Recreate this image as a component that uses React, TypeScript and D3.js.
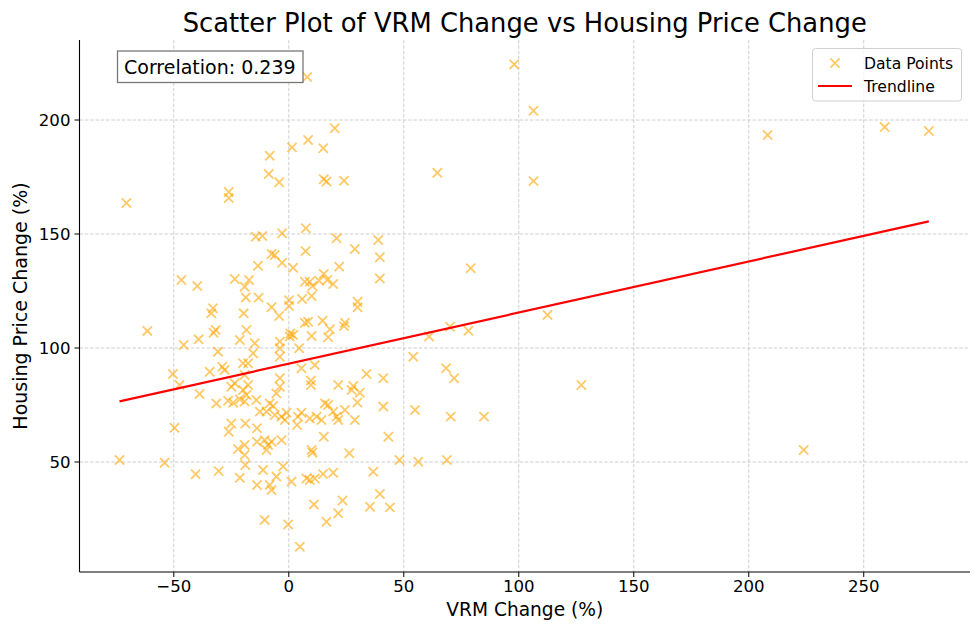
import React from "react";
import * as d3 from "d3";

const vrmChange: number[] = [
  8, 98, 106.4, 106.4, 64.6, 208.2, 259.1, 278.3, 223.9, -70.6, -26.1, -26.1, 20, 8.4, 1.4, -8.3, 15, -8.7, -4.2, 15.2, 16.4, 24,
  -14.4, -11.5, -2.9, 7.4, 20.8, 38.9, 28.7, 7.3, 39.6, -7.5, -6.1, -2.9, -13.4, 1.9, 21.9, 39.6, 15.2, -17.3, -19.2, 7, 9.1, 13.2,
  16.7, 19.3, 10.3, -18.7, -13.1, 9.9, 5.8, 0.1, 0.1, 29.9, 29.9, -7.5, -19.6, -4.2, -18.4, 7, 8.4, 14.7, 24.4, 24, 17.9, 0.7, 1.9,
  0.4, 9.9, 17.1, -3.9, -14.8, -3.9, 4.5, -15.5, -3.9, -19.9, -17.7, 5.5, 11.3, 33.8, 41.1, -3.9,
  -46.7, -39.8, -23.5, -33, -33.7, -61.5, -31.8, -32.7, -21.3, -45.7, -39.2, -30.8, -28.9, -27.9, -34.4, -50.4,
  -47.5, -38.8, -31.5, -23.5, -25, -17.7, -19.9, -18.4, -26.4, -24.2, -21.3, -19.2, -14.1, -49.7, -25, -18.9, -26.1, -13.8, -22.1,
  -19.2, -19.2, -18.9, -13.8, -73.6, -54, -40.5, -30.5, -21.3, -13.8,
  9.6, 9.6, 21.5, 28, 27.3, 30.9, 29.8, 41.1, -3.9, -5.4, -8.3, -6.8, -12.6, -9.7, -6.1, -3.2, -1.7, -1, 5.5, 4, 3.6, 9.1, 12.1,
  14.2, 15.7, 17.1, 19.3, 20.8, 21.5, 24.4, 28.7, -10.5, -9, -7.5, -3.2, -9.7, 15.2, 9.9, 10.3, 26.3, 43.3, 48.1, 36.7, 39.6, 35.3,
  44, 23.4, 21.5, 16.4, 10.9, 4.8, -0.3, -10.5, -11.2, -8.3, -7.5, -5.4, -2.5, 1.2, 7.7, 9.1, 11.3, 14.9, 19.3, -19.2,
  79.1, 61, 70.1, 78.1, 112.5, 54.1, 68.4, 71.9, 127.2, 54.9, 70.4, 84.9, 56.3, 68.7,
];

const housingChange: number[] = [
  218.9, 224.4, 204.1, 173.2, 176.9, 193.4, 196.9, 195.2, 55.3, 163.6, 168.4, 165.8, 196.4, 191.2, 188, 184.3, 187.6, 176.3, 172.7, 174, 173, 173.4,
  148.8, 149.1, 150.3, 152.5, 148.1, 147.4, 143.4, 142.5, 139.8, 141.2, 140.8, 137.4, 136.1, 135.2, 135.7, 130.5, 132.5, 129.8, 126.9, 129.1, 129.1, 129.5,
  129.8, 128.1, 127.2, 122.2, 122.1, 122.8, 121.5, 121, 118.4, 120.3, 117.9, 117.9, 115.2, 114, 107.9, 111.1, 111.5, 112, 111.1, 109.6, 108.2, 106.4, 105.7,
  105, 105.3, 104.7, 102.8, 102.1, 99.9, 99.9, 97.7, 96.2, 93.3, 93.3, 91.1, 92.5, 88.6, 86.7, 86.7,
  129.8, 127.2, 130.3, 117.4, 115.2, 107.5, 107.9, 106.7, 103.5, 101.3, 103.8, 98.4, 91.8, 90.4, 89.6, 88.6,
  83.8, 79.8, 75.7, 84.5, 83, 83.8, 81.6, 79.4, 76.9, 76, 77.5, 76.5, 77.2, 65, 66.9, 66.9, 63.3, 64.8, 55.7,
  57.5, 53.1, 48.7, 58.9, 50.9, 49.7, 44.6, 46, 43.1, 39.9,
  85.7, 83.8, 83.8, 83.3, 81.6, 80.4, 76.1, 74.3, 83, 80.1, 75.7, 74.6, 72.1, 72.1, 70.6, 69.9, 68.4, 71.6, 71.6, 69.9, 66.2, 69.1, 69.9,
  68.4, 75.7, 75, 72.1, 69.9, 68.4, 72.8, 68.4, 59.6, 57.5, 58.9, 59.6, 55.3, 61.1, 55.3, 54.1, 53.8, 61.1, 50.9, 45.7, 36, 30.4,
  30.1, 33.1, 27.5, 23.8, 31.4, 12.8, 22.6, 24.6, 46.5, 39.9, 37.7, 43.6, 48, 41.4, 42.8, 42.1, 42.8, 44.7, 45.3, 88.2,
  135, 105, 109.3, 107.6, 114.5, 96.2, 91.1, 86.7, 83.8, 72.8, 69.9, 69.9, 50.1, 50.9,
];

const xTickValues: number[] = [-50, 0, 50, 100, 150, 200, 250];
const yTickValues: number[] = [50, 100, 150, 200];
const trendSlope = 0.2244;
const trendIntercept = 93.1;
const correlationText = "Correlation: 0.239";
const legendLabels: string[] = ["Data Points", "Trendline"];

const W = 980;
const H = 632;
const left = 79.5;
const right = 970;
const top = 40;
const bottom = 572;
const FONT = "'DejaVu Sans', Verdana, sans-serif";
const POINT_COLOR = "#FFA500";

const fmt = (v: number) => (v < 0 ? "\u2212" + Math.abs(v) : String(v));

export default function App() {
  const x = d3.scaleLinear().domain([-91, 296.2]).range([left, right]);
  const y = d3.scaleLinear().domain([1.75, 235.1]).range([bottom, top]);

  const pts = vrmChange.map((v, i) => ({ x: v, y: housingChange[i] }));
  const xExt = d3.extent(vrmChange) as [number, number];
  const trendData = xExt.map((v) => ({ x: v, y: trendIntercept + trendSlope * v }));
  const line = d3
    .line<{ x: number; y: number }>()
    .x((d) => x(d.x))
    .y((d) => y(d.y));

  const s = 4.6;
  const cross = (cx: number, cy: number, key: number | string, op = 0.6) => (
    <path
      key={key}
      d={`M${cx - s},${cy - s}L${cx + s},${cy + s}M${cx - s},${cy + s}L${cx + s},${cy - s}`}
      stroke={POINT_COLOR}
      strokeOpacity={op}
      strokeWidth={1.8}
      fill="none"
    />
  );

  return (
    <div style={{ position: "absolute", left: 0, top: 0 }}>
      <svg width={W} height={H} style={{ display: "block", background: "#fff" }}>
        <rect x={0} y={0} width={W} height={H} fill="#fff" />
        {/* grid */}
        <g stroke="#c8c8c8" strokeWidth={0.9} strokeDasharray="3.5,1.8">
          {xTickValues.map((t) => (
            <line key={"gx" + t} x1={x(t)} x2={x(t)} y1={top} y2={bottom} />
          ))}
          {yTickValues.map((t) => (
            <line key={"gy" + t} x1={left} x2={right} y1={y(t)} y2={y(t)} />
          ))}
        </g>
        {/* points */}
        <g>{pts.map((p, i) => cross(x(p.x), y(p.y), i))}</g>
        {/* trendline */}
        <path d={line(trendData) || ""} stroke="#ff0000" strokeWidth={2.2} fill="none" />
        {/* axes */}
        <line x1={left} x2={left} y1={top} y2={bottom} stroke="#000" strokeWidth={1.1} />
        <line x1={left} x2={right} y1={bottom} y2={bottom} stroke="#000" strokeWidth={1.1} />
        <g fontFamily={FONT} fontSize={16.6} fill="#000">
          {xTickValues.map((t) => (
            <g key={"tx" + t}>
              <line x1={x(t)} x2={x(t)} y1={bottom} y2={bottom + 5} stroke="#000" strokeWidth={1} />
              <text x={x(t)} y={bottom + 19.5} textAnchor="middle">
                {fmt(t)}
              </text>
            </g>
          ))}
          {yTickValues.map((t) => (
            <g key={"ty" + t}>
              <line x1={left - 5} x2={left} y1={y(t)} y2={y(t)} stroke="#000" strokeWidth={1} />
              <text x={left - 9} y={y(t) + 6} textAnchor="end">
                {fmt(t)}
              </text>
            </g>
          ))}
        </g>
        {/* labels */}
        <text x={(left + right) / 2} y={31.5} textAnchor="middle" fontFamily={FONT} fontSize={25.8}>
          Scatter Plot of VRM Change vs Housing Price Change
        </text>
        <text x={(left + right) / 2} y={615.5} textAnchor="middle" fontFamily={FONT} fontSize={18.6}>
          VRM Change (%)
        </text>
        <text
          transform={`translate(26.5,${(top + bottom) / 2}) rotate(-90)`}
          textAnchor="middle"
          fontFamily={FONT}
          fontSize={19}
        >
          Housing Price Change (%)
        </text>
        {/* correlation box */}
        <rect x={117.5} y={51} width={185.5} height={31.5} fill="#fff" stroke="#777" strokeWidth={1.3} />
        <text x={124} y={73.5} fontFamily={FONT} fontSize={19}>
          {correlationText}
        </text>
        {/* legend */}
        <rect x={812.5} y={48.5} width={149} height={52.5} rx={3} fill="#fff" fillOpacity={0.8} stroke="#d0d0d0" strokeWidth={1} />
        {cross(835, 63, "lg")}
        <line x1={818} x2={852} y1={86} y2={86} stroke="#ff0000" strokeWidth={2.2} />
        <text x={864} y={68.5} fontFamily={FONT} fontSize={15.6}>
          {legendLabels[0]}
        </text>
        <text x={864} y={91.5} fontFamily={FONT} fontSize={15.6}>
          {legendLabels[1]}
        </text>
      </svg>
    </div>
  );
}
